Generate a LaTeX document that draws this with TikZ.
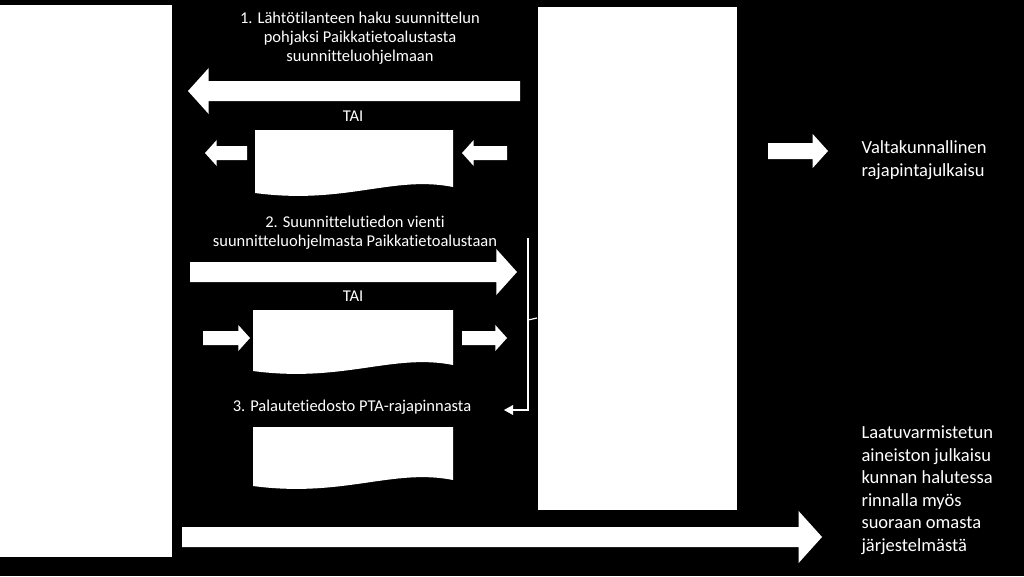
\documentclass[tikz,border=0pt]{standalone}
\usepackage{fontspec}
\setmainfont[Ligatures={NoCommon}]{Carlito}
\begin{document}
\begin{tikzpicture}[x=1pt,y=-1pt,
  txt/.style={text=white,font=\fontsize{16.5}{19}\selectfont,align=center},
  rtxt/.style={text=white,font=\fontsize{18.5}{22.5}\selectfont,align=left,anchor=west}]
\fill[black] (0,0) rectangle (1024,576);
\useasboundingbox (0,0) rectangle (1024,576);
\newcommand\rarr[5]{% x1 x2 yc halfbody halfhead ; pointing right
  \fill[white] (#1,#3-#4) -- (#2-#5*0.9,#3-#4) -- (#2-#5*0.9,#3-#5) -- (#2,#3) -- (#2-#5*0.9,#3+#5) -- (#2-#5*0.9,#3+#4) -- (#1,#3+#4) -- cycle;}
\newcommand\larr[5]{%
  \fill[white] (#2,#3-#4) -- (#1+#5*0.9,#3-#4) -- (#1+#5*0.9,#3-#5) -- (#1,#3) -- (#1+#5*0.9,#3+#5) -- (#1+#5*0.9,#3+#4) -- (#2,#3+#4) -- cycle;}
\newcommand\doc[4]{%
  \fill[white] (#1,#3) -- (#2,#3) -- (#2,#4-10) .. controls (#2-60,#4-22) and (#1+90,#4+8) .. (#1,#4-4) -- cycle;}
% main blocks
\node[fill=white,minimum width=172pt,minimum height=552pt,inner sep=0,anchor=north west] (left) at (0,5) {};
\node[fill=white,minimum width=199pt,minimum height=503pt,inner sep=0,anchor=north west] (mid) at (538,7) {};
% texts
\node[txt] (t1) at (360,38) {1. Lähtötilanteen haku suunnittelun\\pohjaksi Paikkatietoalustasta\\suunnitteluohjelmaan};
\node[txt] (tai1) at (353,116) {TAI};
\node[txt] (t2) at (355,233) {2. Suunnittelutiedon vienti\\suunnitteluohjelmasta Paikkatietoalustaan};
\node[txt] (tai2) at (353,296) {TAI};
\node[txt] (t3) at (352,407) {3. Palautetiedosto PTA-rajapinnasta};
\node[rtxt] (r1) at (858,160) {Valtakunnallinen\\rajapintajulkaisu};
\node[rtxt] (r2) at (858,490) {Laatuvarmistetun\\aineiston julkaisu\\kunnan halutessa\\rinnalla myös\\suoraan omasta\\järjestelmästä};
% arrows
\larr{188}{520}{91}{10}{23}
\larr{205}{247}{153}{7}{13}
\larr{462}{507}{153}{7}{13}
\rarr{190}{517}{272}{10}{23}
\rarr{203}{250}{338}{7}{13}
\rarr{462}{507}{338}{7}{13}
\rarr{182}{822}{537}{10}{26}
\rarr{768}{828}{151}{8}{17}
% documents
\doc{255}{453}{130}{197}
\doc{253}{453}{310}{375}
\doc{253}{453}{427}{490}
% bracket
\draw[white,line width=1.8pt] (528,238) -- (528,410) -- (512,410);
\draw[white,line width=1.2pt] (528,320) -- (537,318);
\fill[white] (504,410) -- (513,405) -- (513,415) -- cycle;
\end{tikzpicture}
\end{document}
